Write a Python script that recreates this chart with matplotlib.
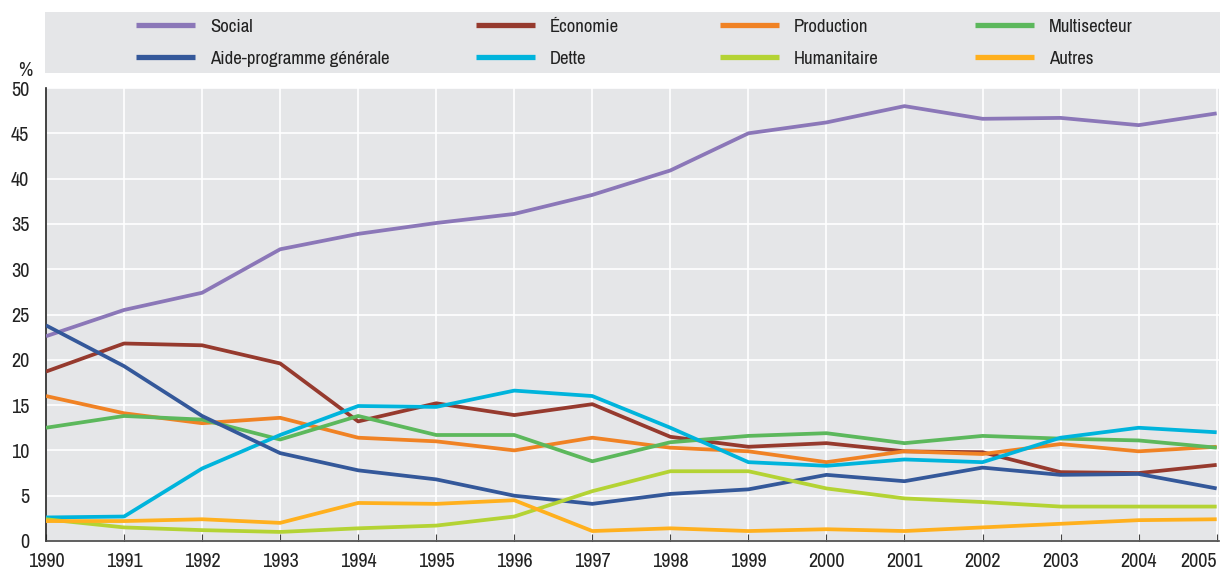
import matplotlib
matplotlib.use("Agg")
import matplotlib.pyplot as plt
from matplotlib.patches import Rectangle

plt.rcParams['font.family'] = ['Archivo Narrow', 'PT Sans Narrow', 'DejaVu Sans']

years = list(range(1990, 2006))
social = [22.6, 25.5, 27.4, 32.2, 33.9, 35.1, 36.1, 38.2, 40.9, 45.0, 46.2, 48.0, 46.6, 46.7, 45.9, 47.2]
aide = [23.8, 19.3, 13.8, 9.7, 7.8, 6.8, 5.0, 4.1, 5.2, 5.7, 7.3, 6.6, 8.1, 7.3, 7.4, 5.8]
economie = [18.7, 21.8, 21.6, 19.6, 13.2, 15.2, 13.9, 15.1, 11.5, 10.4, 10.8, 9.9, 9.8, 7.6, 7.5, 8.4]
dette = [2.6, 2.7, 8.0, 11.7, 14.9, 14.8, 16.6, 16.0, 12.5, 8.7, 8.3, 9.0, 8.7, 11.4, 12.5, 12.0]
production = [16.0, 14.1, 13.0, 13.6, 11.4, 11.0, 10.0, 11.4, 10.3, 9.9, 8.7, 9.9, 9.6, 10.7, 9.9, 10.4]
humanitaire = [2.4, 1.5, 1.2, 1.0, 1.4, 1.7, 2.7, 5.5, 7.7, 7.7, 5.8, 4.7, 4.3, 3.8, 3.8, 3.8]
multisecteur = [12.5, 13.8, 13.4, 11.2, 13.8, 11.7, 11.7, 8.8, 10.9, 11.6, 11.9, 10.8, 11.6, 11.3, 11.1, 10.3]
autres = [2.2, 2.2, 2.4, 2.0, 4.2, 4.1, 4.5, 1.1, 1.4, 1.1, 1.3, 1.1, 1.5, 1.9, 2.3, 2.4]

series = [
    ("Social", social, "#8B77B8"),
    ("Aide-programme générale", aide, "#34589A"),
    ("Économie", economie, "#963A2E"),
    ("Dette", dette, "#00B4DC"),
    ("Production", production, "#F08224"),
    ("Humanitaire", humanitaire, "#B4D334"),
    ("Multisecteur", multisecteur, "#5CB85C"),
    ("Autres", autres, "#FFB01E"),
]
draw_order = ["Social", "Économie", "Production", "Multisecteur", "Dette", "Aide-programme générale", "Humanitaire", "Autres"]

W, H = 1220, 574
fig = plt.figure(figsize=(W/100, H/100), dpi=100)
ax = fig.add_axes([46/W, 1-541/H, (1219-46)/W, (541-88)/H])
bg = "#E5E6E8"
ax.set_facecolor(bg)

lines = {}
for name, vals, col in series:
    z = 3 + draw_order.index(name) * 0.1
    l, = ax.plot(years, vals, color=col, lw=2.7, label=name, zorder=z, solid_capstyle='butt')
    lines[name] = l

ax.set_xlim(1990, 2005.03)
ax.set_ylim(0, 50)
ax.set_xticks(years)
ax.set_xticklabels([str(y) for y in years])
ax.set_yticks(range(0, 51, 5))
ax.grid(True, color="white", lw=1.2)
ax.set_axisbelow(True)
for s in ["top", "right"]:
    ax.spines[s].set_visible(False)
ax.spines["left"].set_color("#222222")
ax.spines["left"].set_linewidth(1.2)
ax.spines["bottom"].set_color("#444444")
ax.spines["bottom"].set_linewidth(1.2)
ax.tick_params(axis="x", direction="in", length=5, color="#444444", labelsize=14.5, pad=8, labelcolor="#222222")
ax.tick_params(axis="y", length=0, labelsize=14.5, pad=12, labelcolor="#222222")
ax.get_xticklabels()[-1].set_horizontalalignment("right")
fig.text(32/W, 1-70/H, "%", ha="right", va="center", fontsize=14, color="#222222")

# legend band
fig.patches.append(Rectangle((45/W, 1-73/H), (1220-45)/W, (73-12)/H, transform=fig.transFigure,
                             facecolor=bg, edgecolor="none", zorder=0))
columns = [["Social", "Aide-programme générale"], ["Économie", "Dette"],
           ["Production", "Humanitaire"], ["Multisecteur", "Autres"]]
col_x = [136, 476, 720, 975]
for xs, names in zip(col_x, columns):
    leg = fig.legend([lines[n] for n in names], names, loc="center left",
                     bbox_to_anchor=(xs/W, 1-42.5/H), frameon=False, fontsize=13.5,
                     borderpad=0, borderaxespad=0, handlelength=3.15, handletextpad=0.8,
                     labelspacing=0.85)
    for t in leg.get_texts():
        t.set_color("#222222")
    for h in leg.legend_handles:
        h.set_linewidth(3.8)

fig.savefig("out.png", dpi=100, facecolor="white")
